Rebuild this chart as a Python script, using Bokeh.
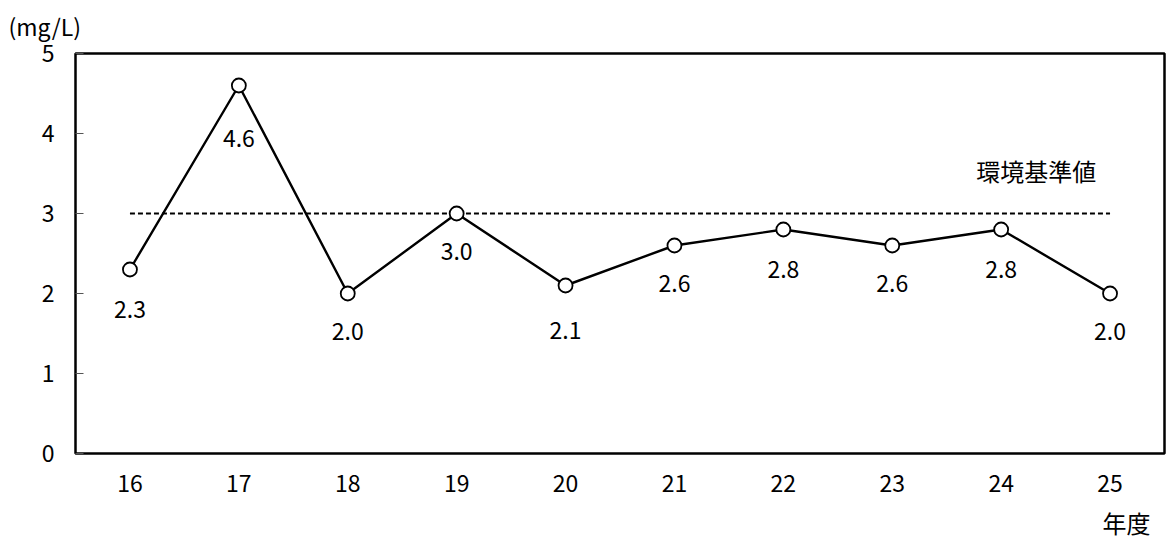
from bokeh.plotting import figure
from bokeh.models import FactorRange, Range1d, FixedTicker, Title, ColumnDataSource
from bokeh.core.properties import value
from bokeh.embed import file_html
from bokeh.resources import INLINE

# Annual mean concentration by fiscal year
years = ["16", "17", "18", "19", "20", "21", "22", "23", "24", "25"]
conc = [2.3, 4.6, 2.0, 3.0, 2.1, 2.6, 2.8, 2.6, 2.8, 2.0]
standard = 3.0
y_ticks = [0, 1, 2, 3, 4, 5]

FONT = "Noto Sans CJK JP"
FS = "23px"

p = figure(
    width=1168, height=550,
    x_range=FactorRange(*years, range_padding=0),
    y_range=Range1d(0, 5),
    output_backend="svg", toolbar_location=None,
    min_border_left=75, min_border_right=4,
    min_border_top=52, min_border_bottom=97,
)
p.background_fill_color = "white"
p.border_fill_color = "white"
p.outline_line_color = "black"
p.outline_line_width = 2.5
p.grid.visible = False

# axes
p.yaxis.ticker = FixedTicker(ticks=y_ticks)
p.yaxis.axis_line_color = None
p.yaxis.major_tick_in = 8
p.yaxis.major_tick_out = 0
p.yaxis.major_tick_line_color = "#555555"
p.yaxis.major_tick_line_width = 1
p.yaxis.minor_tick_line_color = None
p.yaxis.major_label_standoff = 21
p.yaxis.major_label_text_font = FONT
p.yaxis.major_label_text_font_size = FS
p.yaxis.major_label_text_color = "black"

p.xaxis.axis_line_color = None
p.xaxis.major_tick_line_color = None
p.xaxis.minor_tick_line_color = None
p.xaxis.major_label_standoff = 15
p.xaxis.major_label_text_font = FONT
p.xaxis.major_label_text_font_size = FS
p.xaxis.major_label_text_color = "black"

# environmental standard line
p.line(x=[years[0], years[-1]], y=[standard, standard],
       line_color="black", line_width=2, line_dash="5 3")
p.text(x=[years[-2]], y=[standard], text=["環境基準値"],
       x_offset=35, y_offset=-43,
       text_align="center", text_baseline="middle",
       text_font=value(FONT), text_font_size="24px", text_color="black")

# series
src = ColumnDataSource(dict(
    x=years, y=conc, lab=[f"{v:.1f}" for v in conc],
    off=[40, 53, 38, 38, 45, 38, 40, 38, 40, 38],
))
p.line("x", "y", source=src, line_color="black", line_width=2.4)
p.scatter("x", "y", source=src, size=14, marker="circle",
          fill_color="white", line_color="black", line_width=1.8)
p.text("x", "y", text="lab", source=src, y_offset="off",
       text_align="center", text_baseline="middle",
       text_font=value(FONT), text_font_size=FS, text_color="black")

# unit caption above the value axis
p.add_layout(Title(text="(mg/L)", align="left", offset=-67, standoff=17,
                   vertical_align="top",
                   text_font=FONT, text_font_size=FS,
                   text_font_style="normal", text_color="black"), "above")

# year caption at the right end under the category axis
p.add_layout(Title(text="年度", align="right", offset=14, standoff=16,
                   text_font=FONT, text_font_size="24px",
                   text_font_style="normal", text_color="black"), "below")

open("out.html", "w").write(file_html(p, INLINE))
